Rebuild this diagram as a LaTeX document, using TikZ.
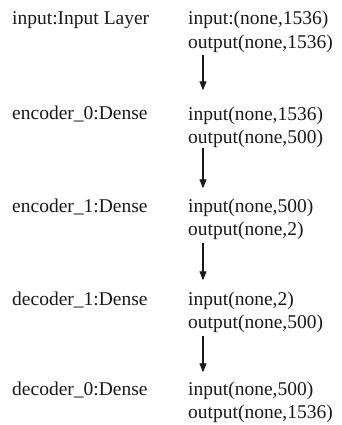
\documentclass[tikz,border=0pt]{standalone}
\usepackage{fontspec}
\setmainfont{Liberation Serif}
\usetikzlibrary{arrows.meta}
\begin{document}
\begin{tikzpicture}[x=1pt,y=1pt,
  lbl/.style={anchor=base west,inner sep=0pt,align=left,font=\fontsize{19.5}{23.5}\selectfont,text=black!90},
  flow/.style={line width=1.1pt,draw=black!90,-{Triangle[length=9pt,width=7pt]}}]
\useasboundingbox (0,0) rectangle (342,-425);
\node[lbl] (L1) at (12,-25) {input:Input Layer};
\node[lbl] (R1) at (188,-48.5) {input:(none,1536)\\output(none,1536)};
\node[lbl] (L2) at (12,-120) {encoder\_0:Dense};
\node[lbl] (R2) at (188,-143.5) {input(none,1536)\\output(none,500)};
\node[lbl] (L3) at (12,-212) {encoder\_1:Dense};
\node[lbl] (R3) at (188,-235.5) {input(none,500)\\output(none,2)};
\node[lbl] (L4) at (12,-305) {decoder\_1:Dense};
\node[lbl] (R4) at (188,-328.5) {input(none,2)\\output(none,500)};
\node[lbl] (L5) at (12,-395) {decoder\_0:Dense};
\node[lbl] (R5) at (188,-418.5) {input(none,500)\\output(none,1536)};
\foreach \a/\b/\s/\e in {R1/R2/-2/16,R2/R3/0/10,R3/R4/-3/11,R4/R5/-3/9}
  \draw[flow] ([xshift=15pt,yshift=\s pt]\a.south west) -- ([xshift=15pt,yshift=\e pt]\b.north west);
\end{tikzpicture}
\end{document}
